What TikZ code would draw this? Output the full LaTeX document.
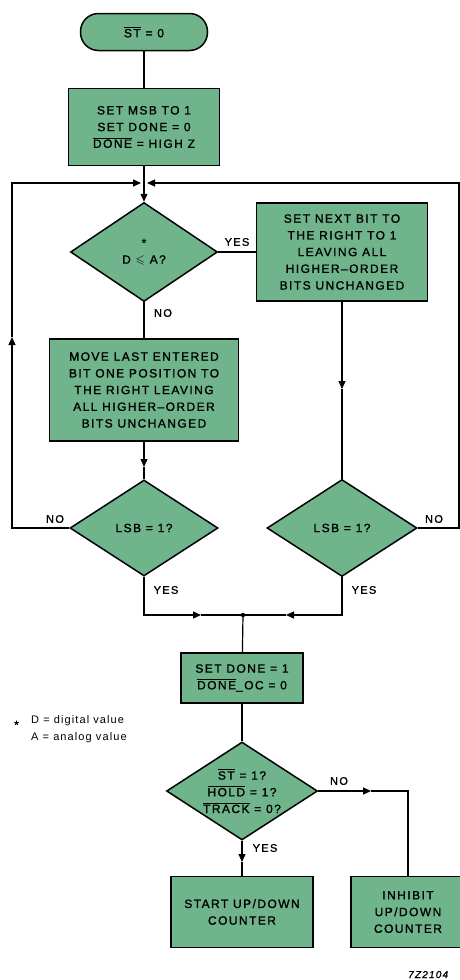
\documentclass[tikz,border=0pt]{standalone}
\usepackage{amssymb}
\usepackage{fontspec}
\setmainfont{Liberation Sans}[LetterSpace=12,FakeBold=1.2]
\newfontfamily\notefont{Liberation Sans}[LetterSpace=10]
\usetikzlibrary{shapes.geometric,arrows.meta}
\definecolor{flowgreen}{RGB}{111,180,139}
\newcommand{\ovl}[1]{$\overline{\mbox{#1}}$}
\tikzset{
	chart/.style={draw, line width=1.5pt, fill=flowgreen, align=center, inner sep=0pt, font=\fontsize{12}{16.7}\selectfont},
	procbox/.style={chart, rectangle},
	testbox/.style={chart, diamond, aspect=1.485},
	flowline/.style={line width=1.2pt},
	flowarrow/.style={flowline, -{Triangle[length=8pt,width=7pt]}},
	answer/.style={inner sep=0pt, font=\fontsize{11}{13}\selectfont}
}
\begin{document}
\begin{tikzpicture}[x=1pt,y=-1pt]
		\useasboundingbox(0,0)rectangle(460,980);
		% steps and tests
		\node[procbox, rounded corners=18pt, minimum width=127pt, minimum height=37pt](start)at(144,32){\ovl{ST} = 0};
		\node[procbox, minimum width=151pt, minimum height=77pt](msb)at(144,127){SET MSB TO 1\\SET DONE = 0\\\ovl{DONE} = HIGH Z};
		\node[testbox, minimum width=147pt, minimum height=99pt](cmp)at(144,252){*\\D $\leqslant$ A?};
		\node[procbox, minimum width=171pt, minimum height=98pt](next)at(342,252){SET NEXT BIT TO\\THE RIGHT TO 1\\LEAVING ALL\\HIGHER--ORDER\\BITS UNCHANGED};
		\node[procbox, minimum width=189pt, minimum height=102pt](move)at(144,390){MOVE LAST ENTERED\\BIT ONE POSITION TO\\THE RIGHT LEAVING\\ALL HIGHER--ORDER\\BITS UNCHANGED};
		\node[testbox, minimum width=148pt, minimum height=96pt](lsbl)at(144,528){LSB = 1?};
		\node[testbox, minimum width=150pt, minimum height=97pt](lsbr)at(342,528){LSB = 1?};
		\node[procbox, minimum width=122pt, minimum height=50pt](done)at(242,678){SET DONE = 1\\\ovl{DONE}\_OC = 0};
		\node[testbox, minimum width=151pt, minimum height=98pt](hold)at(242,791){\ovl{ST} = 1?\\\ovl{HOLD} = 1?\\\ovl{TRACK} = 0?};
		\node[procbox, minimum width=142pt, minimum height=71pt](count)at(242,912){START UP/DOWN\\COUNTER};
		\node[procbox, minimum width=114pt, minimum height=71pt](inhibit)at(408,912){INHIBIT\\UP/DOWN\\COUNTER};
		% bends and arrow points
		\coordinate(jn)at(144,183);
		\coordinate(lup)at(12,337);
		\coordinate(rtop)at(459,183);
		\coordinate(rdn)at(342,389);
		\coordinate(mvdn)at(144,467);
		\coordinate(mg)at(243,615);
		\coordinate(mgl)at(201,615);
		\coordinate(mgr)at(286,615);
		\coordinate(yesdn)at(242,862);
		\coordinate(nort)at(371,791);
		% connectors
		\draw[flowline](start)--(msb);
		\draw[flowarrow](msb)--(cmp.north);
		\draw[flowline](cmp.east)--(next.west);
		\draw[flowline](cmp.south)--(move.north);
		\draw[flowarrow](move.south)--(mvdn);
		\draw[flowline](mvdn)--(lsbl.north);
		\draw[flowarrow](next.south)--(rdn);
		\draw[flowline](rdn)--(lsbr.north);
		\draw[flowarrow](lsbl.west)-|(lup);
		\draw[flowarrow, shorten >=3pt](lup)|-(jn);
		\draw[flowarrow, shorten >=3pt](lsbr.east)-|(rtop)--(jn);
		\draw[flowarrow](lsbl.south)|-(mgl);
		\draw[flowline](mgl)--(mg);
		\draw[flowarrow](lsbr.south)|-(mgr);
		\draw[flowline](mgr)--(mg);
		\fill(mg)circle(2.2);
		\draw[flowline](mg)--(done);
		\draw[flowline](done)--(hold);
		\draw[flowarrow](hold.south)--(yesdn);
		\draw[flowline](yesdn)--(count.north);
		\draw[flowarrow](hold.east)--(nort);
		\draw[flowline](nort)-|(inhibit.north);
		% answers
		\node[answer](cmpyes)at(237,242){YES};
		\node[answer](cmpno)at(163,313){NO};
		\node[answer](lsblno)at(55,519){NO};
		\node[answer](lsbrno)at(434,519){NO};
		\node[answer](lsblyes)at(166,590){YES};
		\node[answer](lsbryes)at(364,590){YES};
		\node[answer](holdno)at(339,781){NO};
		\node[answer](holdyes)at(265,848){YES};
		% footnote
		\node[answer, anchor=base west, font=\fontsize{12}{13}\selectfont](star)at(14,729){*};
		\node[answer, anchor=north west, align=left, font=\notefont\fontsize{11}{17}\selectfont](note)at(31,715){D = digital value\\A = analog value};
		\node[anchor=base west, inner sep=0pt, font=\itshape\fontsize{10}{10}\selectfont](fig)at(408,978){7Z2104};
	\end{tikzpicture}
\end{document}
